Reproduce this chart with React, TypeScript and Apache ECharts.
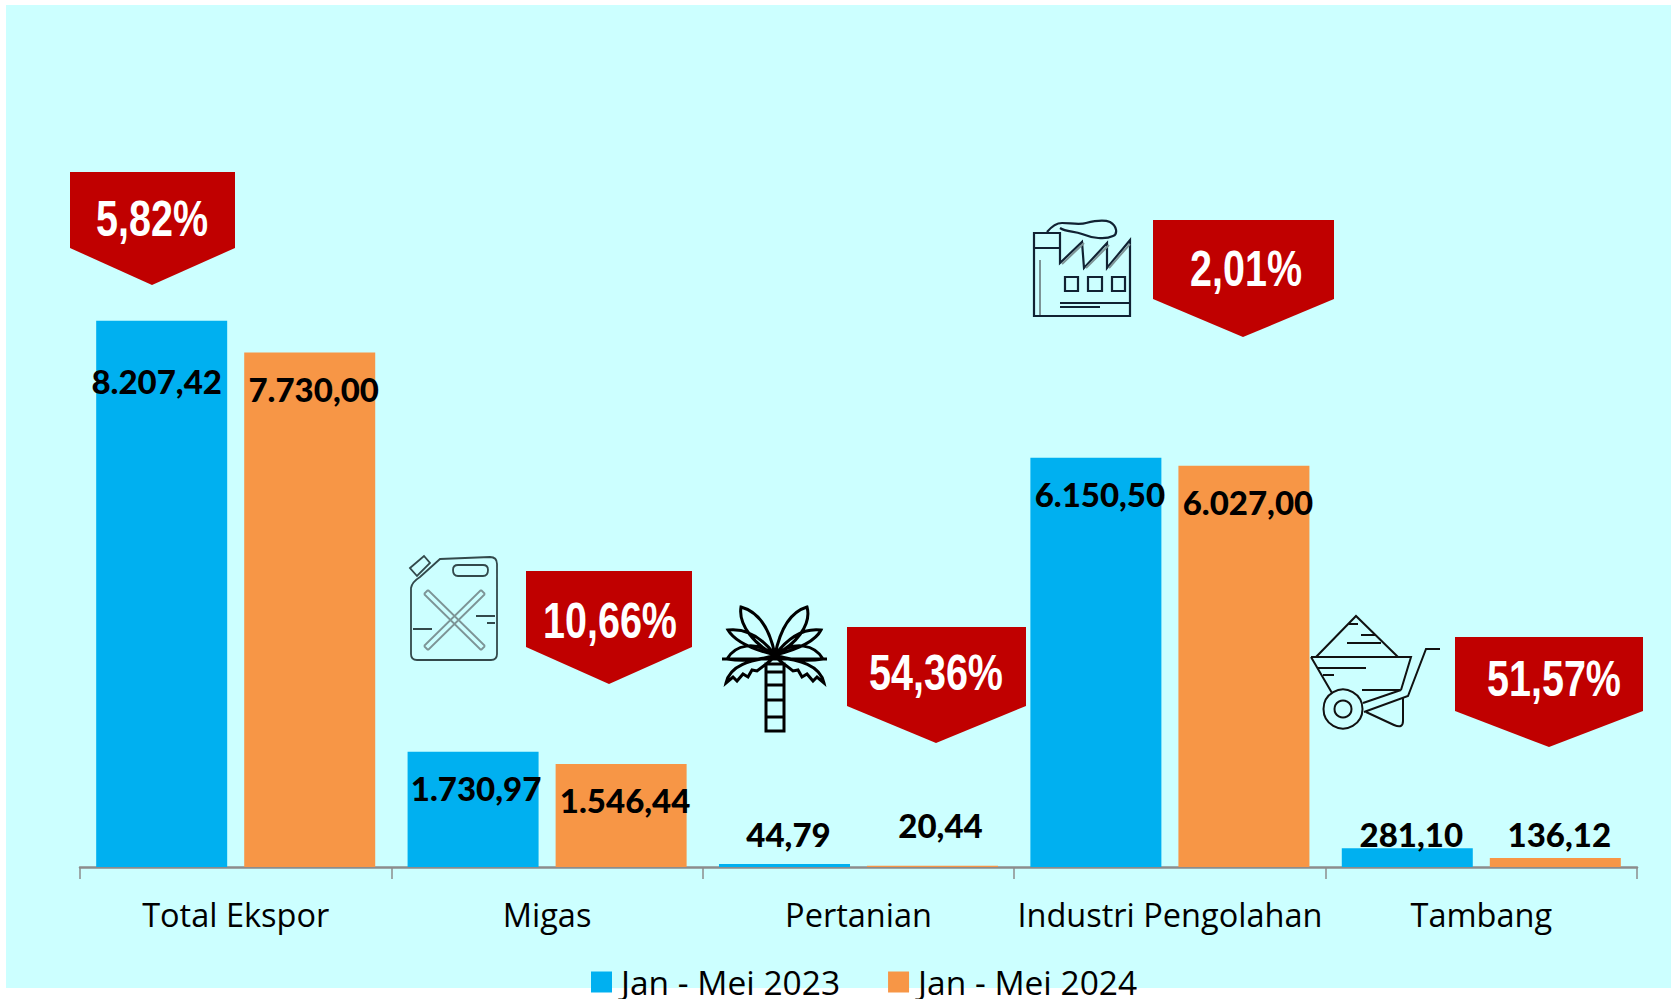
import React, { useEffect, useRef } from "react";
import * as echarts from "echarts";

const categories = ["Total Ekspor", "Migas", "Pertanian", "Industri Pengolahan", "Tambang"];
const series2023 = [8207.42, 1730.97, 44.79, 6150.5, 281.1];
const series2024 = [7730.0, 1546.44, 20.44, 6027.0, 136.12];
const labels2023 = ["8.207,42", "1.730,97", "44,79", "6.150,50", "281,10"];
const labels2024 = ["7.730,00", "1.546,44", "20,44", "6.027,00", "136,12"];
const offsets2023 = [[-5, 78], [3, 54], [4, -12], [4, 54], [4, 4]];
const offsets2024 = [[4, 54], [4, 54], [8, -23], [4, 54], [4, -6]];
const badgeTexts = ["5,82%", "10,66%", "54,36%", "2,01%", "51,57%"];
// left, right, top, shoulder, tipX, tipY, textX, textY
const badgeBoxes = [
  [70, 235, 172, 248, 152, 285, 152, 219],
  [526, 692, 571, 647, 609, 684, 610, 621],
  [847, 1026, 627, 706, 936, 743, 936, 673],
  [1153, 1334, 220, 299, 1243, 337, 1246, 269],
  [1455, 1643, 637, 711, 1549, 747, 1554, 679],
];

const canD =
  "M440 559 L490 557 Q497 557 497 564 L497 654 Q497 660 491 660 L417 660 Q411 660 411 654 L411 588 Q412 582 420 577 Z " +
  "M410 568 L424 556 L430 563 L417 576 Z " +
  "M458 565 L483 565 Q488 565 488 570 Q488 576 483 576 L458 576 Q453 576 453 570 Q453 565 458 565 Z " +
  "M476 616 L495 616 M487 623 L495 623 M413 629 L432 629";
const canXD =
  "M424 594 L481 650 M428 590 L485 646 M485 594 L428 650 M481 590 L424 646 M424 594 L428 590 M481 650 L485 646 M485 594 L481 590 M428 650 L424 646";
const palmD =
  "M775 655 C770 630 760 612 741 607 C738 625 755 645 775 655 Z " +
  "M775 655 C780 630 790 612 807 607 C812 625 795 645 775 655 Z " +
  "M775 655 C760 635 745 628 728 630 C735 642 755 650 775 655 Z " +
  "M775 655 C790 635 805 628 821 630 C815 642 795 650 775 655 Z " +
  "M775 655 C755 640 735 645 727 659 C745 662 760 660 775 655 Z " +
  "M775 655 C795 640 815 645 823 659 C805 662 790 660 775 655 Z " +
  "M722 659 L827 659 " +
  "M775 657 C750 660 730 665 726 683 L733 677 L737 681 L743 674 L748 677 L752 670 L757 671 Z " +
  "M775 657 C800 660 820 665 824 683 L817 677 L813 681 L807 674 L802 677 L798 670 L793 671 Z " +
  "M766 664 L784 664 L784 731 L766 731 Z M766 672 L784 672 M766 685 L784 685 M766 700 L784 700 M766 717 L784 717";
const factoryD =
  "M1034 233 L1060 233 L1060 263 L1082 242 L1084 268 L1107 243 L1107 268 L1130 240 L1130 316 L1034 316 Z " +
  "M1034 248 L1060 248 M1060 303 L1130 303 M1060 307 L1100 307 " +
  "M1065 277 L1078 277 L1078 291 L1065 291 Z M1088 277 L1102 277 L1102 291 L1088 291 Z M1112 277 L1125 277 L1125 291 L1112 291 Z " +
  "M1047 232 C1052 226 1056 223 1062 223 C1070 223 1080 225 1086 223 C1094 221 1103 219 1110 222 C1117 226 1118 234 1113 236 C1105 240 1092 238 1082 234 C1074 231 1066 232 1060 228";
const factoryFaintD = "M1040 260 L1040 315 M1062 264 L1084 243 M1086 268 L1109 245 M1109 268 L1130 244";
const barrowD =
  "M1316 657 L1356 616 L1398 657 M1311 657 L1411 657 L1401 690 M1311 657 L1332 693 " +
  "M1440 649 L1426 649 L1408 696 L1364 712 M1401 690 L1363 703 " +
  "M1366 712 L1394 725 Q1403 729 1403 721 L1403 698 " +
  "M1349 624 L1358 624 M1361 635 L1376 635 M1347 643 L1381 643 M1318 668 L1366 668 M1323 675 L1334 675 M1362 690 L1400 690";

echarts.graphic.registerShape("canIcon", echarts.graphic.extendPath(canD, {}));
echarts.graphic.registerShape("canXIcon", echarts.graphic.extendPath(canXD, {}));
echarts.graphic.registerShape("palmIcon", echarts.graphic.extendPath(palmD, {}));
echarts.graphic.registerShape("factoryIcon", echarts.graphic.extendPath(factoryD, {}));
echarts.graphic.registerShape("factoryFaintIcon", echarts.graphic.extendPath(factoryFaintD, {}));
echarts.graphic.registerShape("barrowIcon", echarts.graphic.extendPath(barrowD, {}));

const BLUE = "#00B0F0";
const ORANGE = "#F79646";
const RED = "#C00000";
const PANEL = "#CCFFFF";
const VALUE_FONT = "Lato";
const AXIS_FONT = "Open Sans";

function items(values: number[], labels: string[], offsets: number[][]) {
  return values.map((value, i) => ({
    value,
    label: { formatter: labels[i], offset: offsets[i] },
  }));
}

function icon(type: string, stroke: string, lineWidth: number) {
  return { type, x: 0, y: 0, z: 5, style: { fill: "none", stroke, lineWidth } };
}

export default function App() {
  const ref = useRef<HTMLDivElement>(null);
  useEffect(() => {
    document.body.style.margin = "0";
    const chart = echarts.init(ref.current!, undefined, { renderer: "svg" });
    const label = {
      show: true,
      position: "top",
      distance: 0,
      color: "#000",
      fontFamily: VALUE_FONT,
      fontWeight: 900,
      fontSize: 33,
      lineHeight: 36,
    };
    const badges: any[] = [];
    badgeBoxes.forEach((b, i) => {
      const [l, r, t, s, tx, ty, cx, cy] = b;
      badges.push({
        type: "polygon",
        z: 5,
        shape: { points: [[l, t], [r, t], [r, s], [tx, ty], [l, s]] },
        style: { fill: RED },
      });
      badges.push({
        type: "text",
        z: 6,
        x: cx,
        y: cy,
        scaleX: 0.79,
        style: {
          text: badgeTexts[i],
          fill: "#fff",
          font: 'bold 50px "Liberation Sans"',
          textAlign: "center",
          textVerticalAlign: "middle",
        },
      });
    });
    chart.setOption({
      animation: false,
      backgroundColor: "#fff",
      graphic: [
        { type: "rect", z: -10, shape: { x: 6, y: 5, width: 1665, height: 983 }, style: { fill: PANEL } },
        ...badges,
        icon("canIcon", "#33494b", 1.8),
        icon("canXIcon", "#7d9496", 1.8),
        icon("palmIcon", "#000", 3),
        icon("factoryIcon", "#123", 2.2),
        icon("factoryFaintIcon", "#7d9496", 2),
        icon("barrowIcon", "#111", 2),
        { type: "circle", z: 5, shape: { cx: 1343, cy: 709, r: 19.5 }, style: { fill: "none", stroke: "#111", lineWidth: 2 } },
        { type: "circle", z: 5, shape: { cx: 1343, cy: 709, r: 8.5 }, style: { fill: "none", stroke: "#111", lineWidth: 2 } },
      ],
      legend: {
        top: 965,
        left: 591,
        itemWidth: 21,
        itemHeight: 21,
        itemGap: 48,
        icon: "rect",
        data: ["Jan - Mei 2023", "Jan - Mei 2024"],
        textStyle: { fontFamily: AXIS_FONT, fontSize: 33.5, color: "#000", padding: [0, 0, 12, 4] },
        padding: 0,
      },
      grid: { left: 80, top: 268, width: 1557, height: 599 },
      xAxis: {
        type: "category",
        data: categories,
        axisTick: { show: true, length: 12, alignWithLabel: false, lineStyle: { color: "#8c8c8c", width: 1.5 } },
        axisLine: { lineStyle: { color: "#8c8c8c", width: 2.5 } },
        axisLabel: { interval: 0, fontFamily: AXIS_FONT, fontSize: 32.5, color: "#000", margin: 31 },
      },
      yAxis: { type: "value", min: 0, max: 9000, show: false, splitLine: { show: false } },
      series: [
        {
          name: "Jan - Mei 2023",
          type: "bar",
          barWidth: 131,
          barGap: "13%",
          itemStyle: { color: BLUE },
          label,
          data: items(series2023, labels2023, offsets2023),
        },
        {
          name: "Jan - Mei 2024",
          type: "bar",
          barWidth: 131,
          itemStyle: { color: ORANGE },
          label,
          data: items(series2024, labels2024, offsets2024),
        },
      ],
    });
    return () => chart.dispose();
  }, []);
  return <div ref={ref} style={{ width: 1671, height: 999 }} />;
}
